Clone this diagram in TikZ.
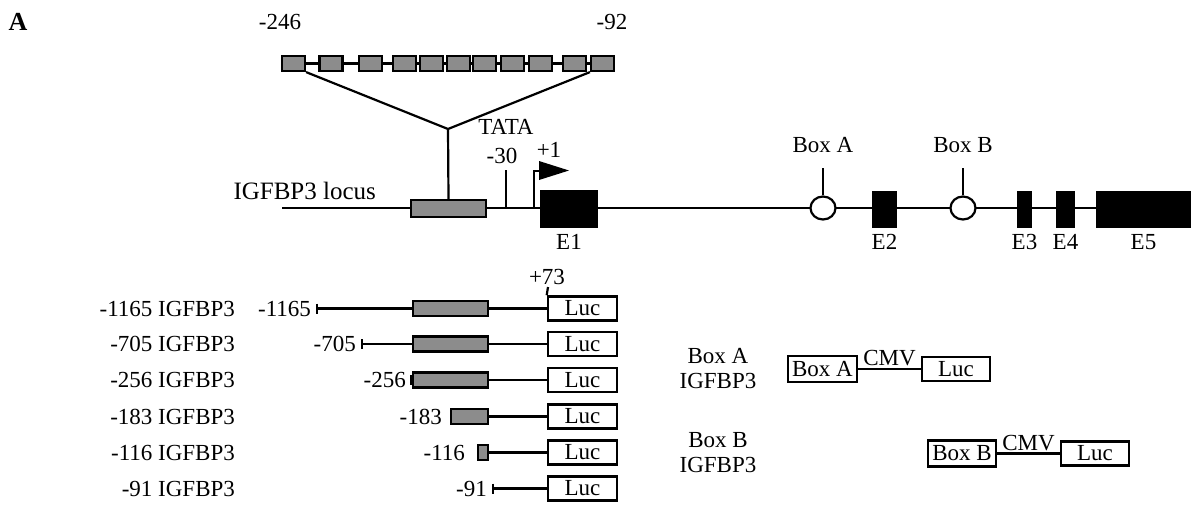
\documentclass[tikz,border=0pt]{standalone}
\usepackage{fontspec}
\setmainfont{Liberation Serif}
\definecolor{boxgray}{RGB}{140,140,140}
\tikzset{
  lbl/.style={inner sep=0pt, font=\fontsize{23}{25}\selectfont},
  exon/.style={draw, fill=black, inner sep=0pt, minimum height=35pt},
  gbox/.style={draw, fill=boxgray, inner sep=0pt, minimum height=15pt},
  tbox/.style={draw, fill=boxgray, inner sep=0pt, minimum width=23pt, minimum height=15pt},
  lucbox/.style={draw, fill=white, inner sep=0pt, minimum width=69pt, minimum height=24pt, line width=2.6pt, font=\fontsize{23}{25}\selectfont},
  site/.style={draw, fill=white, ellipse, inner sep=0pt, minimum width=25pt, minimum height=23pt},
}
\usetikzlibrary{shapes.geometric}
\begin{document}
\begin{tikzpicture}[x=1pt, y=-1pt, line width=2.2pt]
\useasboundingbox (0,0) rectangle (1195,507);
\node[inner sep=0pt, font=\fontsize{26}{28}\selectfont\bfseries] (panel) at (18,22) {A};

% ---- main locus line
\coordinate (lstart) at (282,208);
\coordinate (lend) at (1100,208);
\draw (lstart) -- (lend);
\node[lbl, font=\fontsize{25}{27}\selectfont, anchor=east] (locus) at (377,191) {IGFBP3 locus};

% gray promoter region
\node[gbox, minimum width=75pt, minimum height=17pt] (gl) at (448.5,208.5) {};

% tata and tss
\coordinate (tata) at (506,208);
\coordinate (tatatop) at (506,170);
\draw (tata) -- (tatatop);
\node[lbl] (tatalbl) at (506,127) {TATA};
\node[lbl] (m30) at (502,156) {-30};
\coordinate (tss) at (534,208);
\coordinate (tssbend) at (541,171);
\draw (tss) |- (tssbend);
\fill (539,161) -- (569,170.5) -- (539,180) -- cycle;
\node[lbl] (p1) at (549,150) {+1};

% exons
\node[exon, minimum width=56pt] (e1) at (569,209) {};
\node[exon, minimum width=23pt] (e2) at (884.5,209.5) {};
\node[exon, minimum width=12pt] (e3) at (1024.5,209.5) {};
\node[exon, minimum width=17pt] (e4) at (1065.5,209.5) {};
\node[exon, minimum width=93pt] (e5) at (1143.5,209.5) {};
\node[lbl] (e1l) at (569,242) {E1};
\node[lbl] (e2l) at (884.5,242) {E2};
\node[lbl] (e3l) at (1024.5,242) {E3};
\node[lbl] (e4l) at (1065.5,242) {E4};
\node[lbl] (e5l) at (1143.5,242) {E5};

% box A / box B sites
\node[site] (sa) at (823,208) {};
\node[site] (sb) at (963,208) {};
\coordinate (satop) at (823,168);
\coordinate (sbtop) at (963,168);
\draw (sa.north) -- (satop);
\draw (sb.north) -- (sbtop);
\node[lbl] (sal) at (823,145) {Box A};
\node[lbl] (sbl) at (963,145) {Box B};

% ---- expanded repeat row
\foreach \i/\cx in {1/293.5,2/331,3/370.5,4/404.5,5/431.5,6/458.5,7/484.5,8/512.5,9/540.5,10/574.5,11/602.5}
  \node[tbox] (b\i) at (\cx,63.5) {};
\foreach \i/\j in {1/2,2/3,3/4,4/5,5/6,6/7,7/8,8/9,9/10,10/11}
  \draw (b\i.east) -- (b\j.west);
\node[lbl] (n246) at (280,22) {-246};
\node[lbl] (n92) at (612,22) {-92};
\coordinate (apex) at (448,129);
\draw (b1.south east) -- (apex) -- (b11.south west);
\draw (apex) -- (gl.north);

% ---- deletion constructs
% row 1
\node[lucbox] (luc1) at (582.5,308.5) {Luc};
\node[gbox, minimum width=75pt] (g1) at (450.5,308.5) {};
\coordinate (t1) at (317,308.5);
\draw (t1) -- (g1.west); \draw (g1.east) -- (luc1.west);
\draw ([yshift=5pt]t1) -- ([yshift=-5pt]t1);
\node[lbl, anchor=east] (n1) at (312,308.5) {-1165};
\node[lbl, anchor=east] (r1) at (236,308.5) {-1165 IGFBP3};
\coordinate (p73) at (548,287);
\draw (luc1.north west) -- (p73);
\node[lbl] (n73) at (547,277) {+73};
% row 2
\node[lucbox] (luc2) at (582.5,344) {Luc};
\node[gbox, minimum width=75pt] (g2) at (450.5,344) {};
\coordinate (t2) at (362,344);
\draw (t2) -- (g2.west); \draw (g2.east) -- (luc2.west);
\draw ([yshift=5pt]t2) -- ([yshift=-5pt]t2);
\node[lbl, anchor=east] (n2) at (357,344) {-705};
\node[lbl, anchor=east] (r2) at (236,344) {-705 IGFBP3};
% row 3
\node[lucbox] (luc3) at (582.5,380) {Luc};
\node[gbox, minimum width=75pt] (g3) at (450.5,380) {};
\coordinate (t3) at (411,380);
\draw (t3) -- (g3.west); \draw (g3.east) -- (luc3.west);
\draw ([yshift=5pt]t3) -- ([yshift=-5pt]t3);
\node[lbl, anchor=east] (n3) at (407,380) {-256};
\node[lbl, anchor=east] (r3) at (236,380) {-256 IGFBP3};
% row 4
\node[lucbox] (luc4) at (582.5,416.5) {Luc};
\node[gbox, minimum width=37pt] (g4) at (469.5,416.5) {};
\draw (g4.east) -- (luc4.west);
\node[lbl, anchor=east] (n4) at (443,416.5) {-183};
\node[lbl, anchor=east] (r4) at (236,416.5) {-183 IGFBP3};
% row 5
\node[lucbox] (luc5) at (582.5,452.5) {Luc};
\node[gbox, minimum width=10pt] (g5) at (483,452.5) {};
\draw (g5.east) -- (luc5.west);
\node[lbl, anchor=east] (n5) at (466,452.5) {-116};
\node[lbl, anchor=east] (r5) at (236,452.5) {-116 IGFBP3};
% row 6
\node[lucbox] (luc6) at (582.5,488.5) {Luc};
\coordinate (t6) at (493,488.5);
\draw (t6) -- (luc6.west);
\draw ([yshift=5pt]t6) -- ([yshift=-5pt]t6);
\node[lbl, anchor=east] (n6) at (488,488.5) {-91};
\node[lbl, anchor=east] (r6) at (236,488.5) {-91 IGFBP3};

% ---- Box A / Box B reporters
\node[lbl, align=center] (rA) at (718,369) {Box A\\IGFBP3};
\node[lucbox, minimum width=69pt, minimum height=26pt] (bxa) at (822.5,369) {Box A};
\node[lucbox, minimum width=68pt] (lca) at (956,369) {Luc};
\draw (bxa.east) -- (lca.west) node[lbl, midway, anchor=south, yshift=2pt] (cmva) {CMV};

\node[lbl, align=center] (rB) at (718,453) {Box B\\IGFBP3};
\node[lucbox, minimum width=68pt, minimum height=26pt] (bxb) at (962,453.5) {Box B};
\node[lucbox, minimum width=68pt] (lcb) at (1095,453.5) {Luc};
\draw (bxb.east) -- (lcb.west) node[lbl, midway, anchor=south, yshift=2pt] (cmvb) {CMV};
\end{tikzpicture}
\end{document}
